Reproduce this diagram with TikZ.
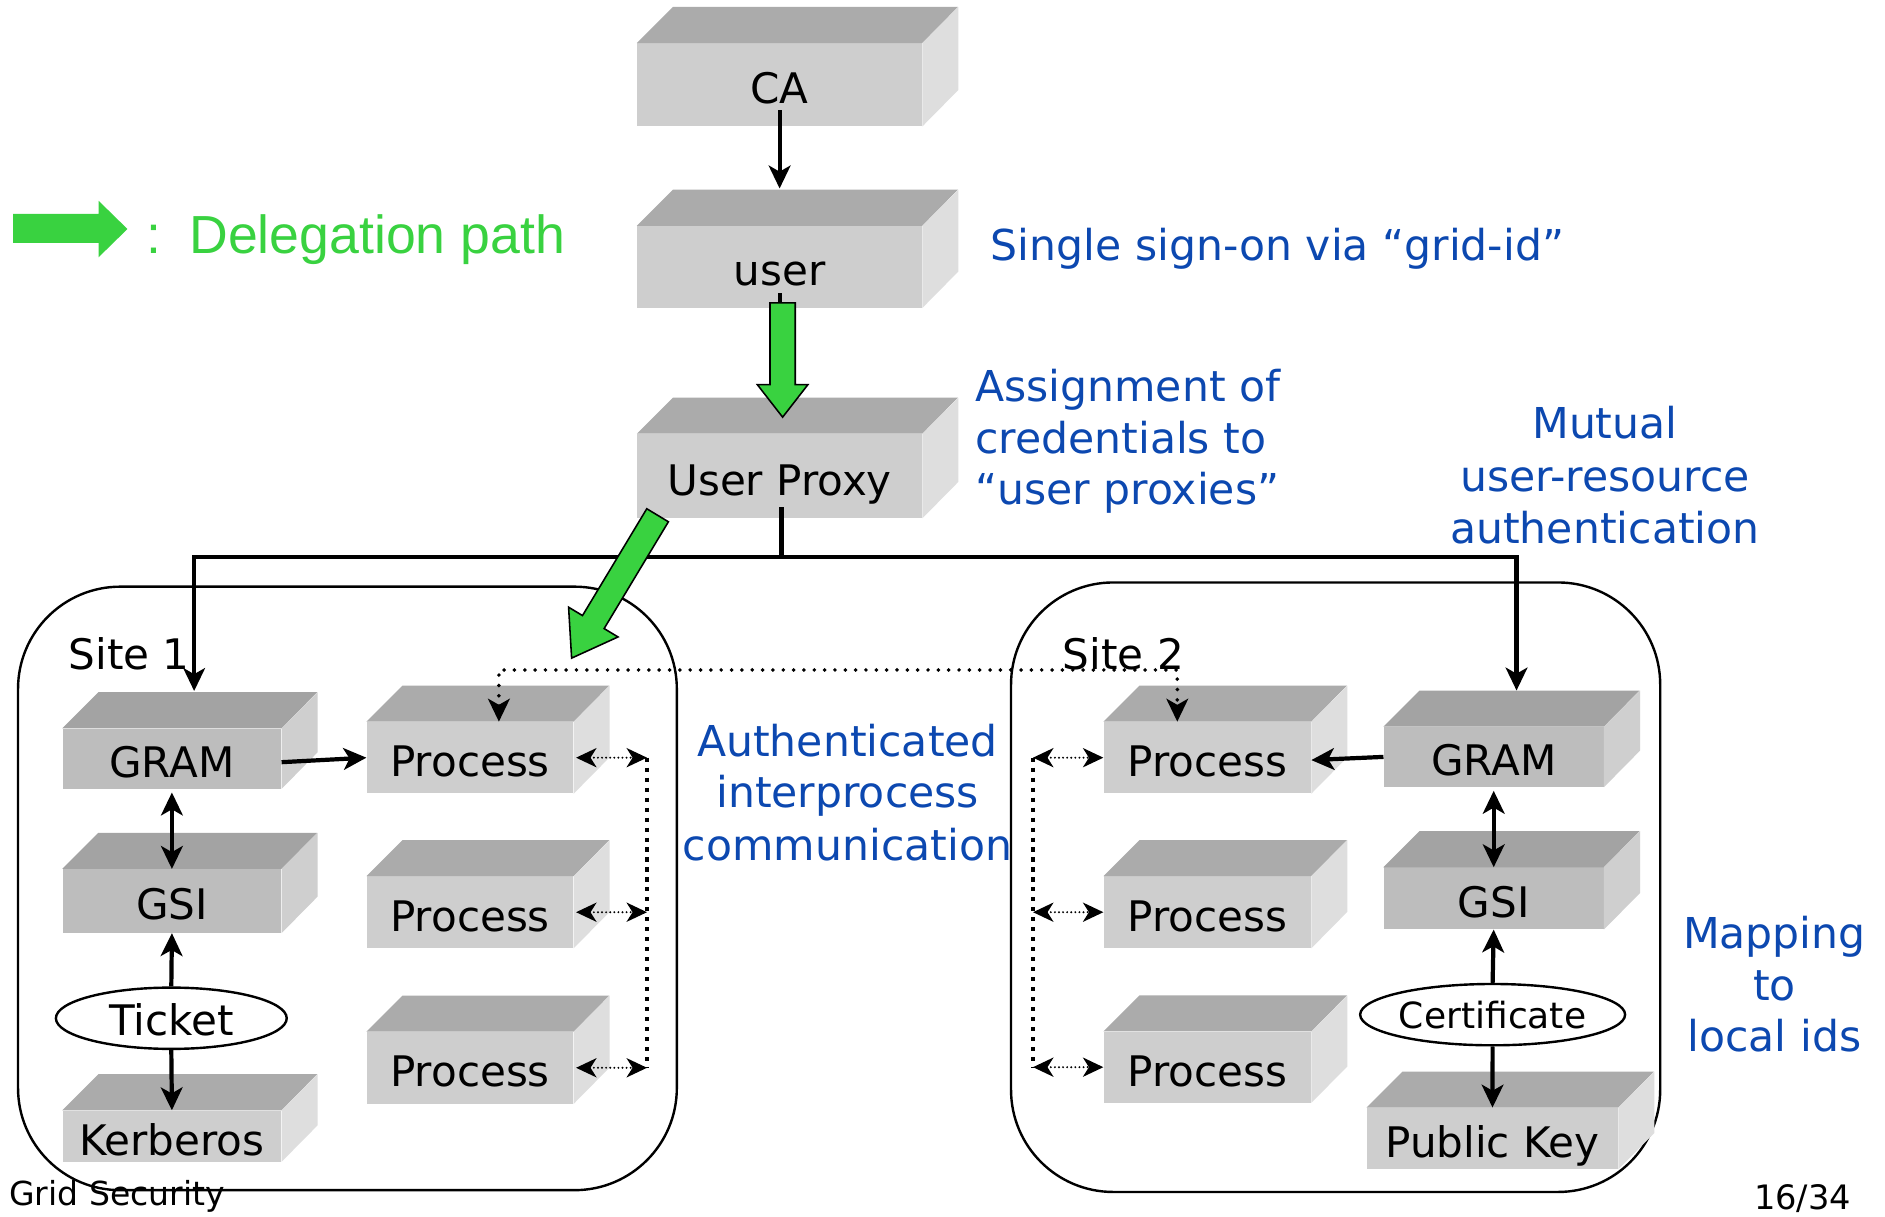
\documentclass[tikz,border=0pt]{standalone}
\usepackage{fontspec}
\setmainfont{DejaVu Sans}
\newfontfamily\legendfont{Liberation Sans}
\usetikzlibrary{arrows.meta,shapes.geometric,calc}

\definecolor{noteblue}{RGB}{12,72,176}
\definecolor{deleg}{RGB}{57,210,64}
\definecolor{litefront}{RGB}{206,206,206}
\definecolor{litetop}{RGB}{171,171,171}
\definecolor{liteside}{RGB}{222,222,222}
\definecolor{darkfront}{RGB}{189,189,189}
\definecolor{darktop}{RGB}{163,163,163}
\definecolor{darkside}{RGB}{207,207,207}

\newcommand\fs[1]{\fontsize{#1}{#1}\selectfont}

% 3-D slab: front face is a named node, top and right faces are added behind it
% #1 colour scheme, #2 name, #3 x, #4 y, #5 width, #6 height, #7 label
\newcommand\slab[7][lite]{%
  \node[slabface, fill=#1front, minimum width=#5pt, minimum height=#6pt] (#2) at (#3,#4) {#7};
  \fill[#1top] (#2.north west) -- ++(30,-30) -- ++(#5,0) -- (#2.north east) -- cycle;
  \fill[#1side] (#2.north east) -- ++(30,-30) -- ++(0,#6) -- (#2.south east) -- cycle;
}

\tikzset{
  bigtip/.tip={Stealth[length=19pt,width=18pt,inset=5pt]},
  smalltip/.tip={Stealth[length=17pt,width=16pt,inset=5pt]},
  slabface/.style={inner sep=0pt, text height=31.5pt, text depth=0pt, font=\fs{35}},
  token/.style={ellipse, draw, line width=2pt, fill=white, inner sep=0pt,
    text depth=0pt},
  siteframe/.style={draw, line width=2pt, rounded corners=85pt, inner sep=0pt},
  sitelabel/.style={inner sep=0pt, font=\fs{35}},
  note/.style={inner sep=0pt, text=noteblue, font=\fs{35.4}},
  footer/.style={inner sep=0pt, font=\fs{28}},
  trunk/.style={line width=3.5pt},
  conn/.style={line width=3.5pt, -bigtip},
  biconn/.style={line width=3.5pt, bigtip-bigtip},
  dotlink/.style={line width=3.3pt, line cap=round, dash pattern=on 0pt off 8.6pt, bigtip-bigtip},
  bus/.style={line width=3.5pt, dash pattern=on 3.4pt off 4.9pt},
  smallarr/.style={line width=1.8pt, line cap=round, dash pattern=on 0pt off 3.4pt, smalltip-smalltip},
  garrow/.style={fill=deleg, draw=black, line width=1.3pt, line join=miter},
}

\begin{document}
\begin{tikzpicture}[x=1pt, y=-1pt]
\useasboundingbox (0,0) rectangle (1568,1012);
\fill[white] (0,0) rectangle (1568,1012);

% ---------- site frames ----------
\node[siteframe, minimum width=548pt, minimum height=502pt] (site1) at (289,739) {};
\node[siteframe, minimum width=540pt, minimum height=507pt] (site2) at (1111,738) {};
\node[sitelabel, anchor=base west] (site1lbl) at (57,557) {Site 1};
\node[sitelabel, anchor=base west] (site2lbl) at (884,557) {Site 2};

% ---------- central chain ----------
\slab{ca}{648.5}{70.5}{237}{69}{CA}
\slab{user}{648.5}{222}{237}{68}{user}
\slab{proxy}{648.5}{396}{237}{70}{User Proxy}

% ---------- site 1 ----------
\slab[dark]{gram1}{143}{631}{182}{50}{GRAM}
\slab[dark]{gsi1}{143}{749.5}{182}{53}{GSI}
\slab{kerb}{143}{945}{182}{42.5}{Kerberos}
\slab{p1a}{391}{630.25}{172}{59.5}{Process}
\slab{p1b}{391}{758.8}{172}{59.6}{Process}
\slab{p1c}{391}{888.2}{172}{59.6}{Process}
\node[token, minimum width=192pt, minimum height=51pt, text height=28pt, font=\fs{35}]
  (ticket) at (142.5,847) {Ticket};

% ---------- site 2 ----------
\slab{p2a}{1004.3}{630.25}{172.6}{59.5}{Process}
\slab{p2b}{1004.3}{758.8}{172.6}{59.6}{Process}
\slab{p2c}{1004.3}{887.7}{172.6}{59}{Process}
\slab[dark]{gram2}{1242.5}{629.6}{183}{50}{GRAM}
\slab[dark]{gsi2}{1242.5}{747.3}{183}{51.4}{GSI}
\slab{pk}{1241.5}{947}{209}{51}{Public Key}
\node[token, minimum width=196pt, minimum height=51pt, text height=23pt, font=\fs{30}]
  (cert) at (1241.6,844) {Certificate};

% ---------- solid connectors ----------
\draw[conn] ([yshift=-21pt]ca.center) -- ([yshift=31pt]user.north);
\draw[trunk] ([yshift=-22pt]user.center) -- ([yshift=-34pt]user.center);

\coordinate (split) at ([xshift=1.5pt,yshift=-67.5pt]proxy.center);
\draw[trunk] ([xshift=1.5pt,yshift=-26pt]proxy.center) -- (split);
\draw[conn] (split) -| ([xshift=18.5pt,yshift=31pt]gram1.north);
\draw[conn] (split) -| ([xshift=19pt,yshift=30pt]gram2.north);

\draw[conn] ([yshift=-3pt]gram1.east) -- (p1a.west);
\draw[biconn] ([yshift=-3pt]gram1.south) -- (gsi1.north);
\draw[conn] (ticket.north) -- (gsi1.south);
\draw[conn] (ticket.south) -- (kerb.north);

\draw[conn] (gram2.west) -- ([yshift=-2pt]p2a.east);
\draw[biconn] ([yshift=-3pt]gram2.south) -- (gsi2.north);
\draw[conn] (cert.north) -- (gsi2.south);
\draw[conn] (cert.south) -- (pk.north);

% ---------- interprocess links ----------
\draw[dotlink] ([xshift=24pt]p1a.north) -- ++(0,-43) -| ([xshift=-25pt]p2a.north);

\coordinate (b1a) at ([xshift=61pt]p1a.east);
\coordinate (b1b) at ([xshift=61pt]p1b.east);
\coordinate (b1c) at ([xshift=61pt]p1c.east);
\draw[bus] (b1a) -- (b1c);
\draw[smallarr] ([xshift=2pt]p1a.east) -- (b1a);
\draw[smallarr] ([xshift=2pt]p1b.east) -- (b1b);
\draw[smallarr] ([xshift=2pt]p1c.east) -- (b1c);

\coordinate (b2a) at ([xshift=-58.5pt]p2a.west);
\coordinate (b2b) at ([xshift=-58.5pt]p2b.west);
\coordinate (b2c) at ([xshift=-58.5pt]p2c.west);
\draw[bus] (b2a) -- (b2c);
\draw[smallarr] (b2a) -- (p2a.west);
\draw[smallarr] (b2b) -- (p2b.west);
\draw[smallarr] (b2c) -- (p2c.west);

% ---------- delegation arrows ----------
\draw[garrow] (640.5,252) -- (661.5,252) -- (661.5,320) -- (672,320)
  -- (651,347) -- (630,320) -- (640.5,320) -- cycle;
\begin{scope}[shift={(547,428.6)}, rotate=238.96]
  \draw[garrow] (0,-10.5) -- (103.7,-10.5) -- (103.7,-24) -- (138.7,0)
    -- (103.7,24) -- (103.7,10.5) -- (0,10.5) -- cycle;
\end{scope}

% ---------- legend ----------
\fill[deleg] (11,178) -- (82,178) -- (82,167) -- (106,190.5) -- (82,214)
  -- (82,202) -- (11,202) -- cycle;
\node[inner sep=0pt, text=deleg, font=\legendfont\fs{44.6}, anchor=base west]
  (legtext) at (122,211) {:\hspace{23pt}Delegation path};

% ---------- notes ----------
\node[note, anchor=base west] (sso) at (824,217) {Single sign-on via “grid-id”};

\node[note, anchor=base west] (asg1) at (811,334) {Assignment of};
\node[note, anchor=base west] (asg2) at (811,377) {credentials to};
\node[note, anchor=base west] (asg3) at (811,420) {“user proxies”};

\node[note, anchor=base] (mut1) at (1335,365) {Mutual};
\node[note, anchor=base] (mut2) at (1335,409) {user-resource};
\node[note, anchor=base] (mut3) at (1335,452) {authentication};

\node[note, anchor=base] (ipc1) at (705,629) {Authenticated};
\node[note, anchor=base] (ipc2) at (705,672) {interprocess};
\node[note, anchor=base] (ipc3) at (705,716) {communication};

\node[note, anchor=base] (map1) at (1476,789) {Mapping};
\node[note, anchor=base] (map2) at (1476,832) {to};
\node[note, anchor=base] (map3) at (1476,875) {local ids};

% ---------- footer ----------
\node[footer, font=\fs{27.5}, anchor=base west] (foot) at (7.5,1003) {Grid Security};
\node[footer, anchor=base east] (page) at (1540,1006) {16/34};
\end{tikzpicture}
\end{document}
